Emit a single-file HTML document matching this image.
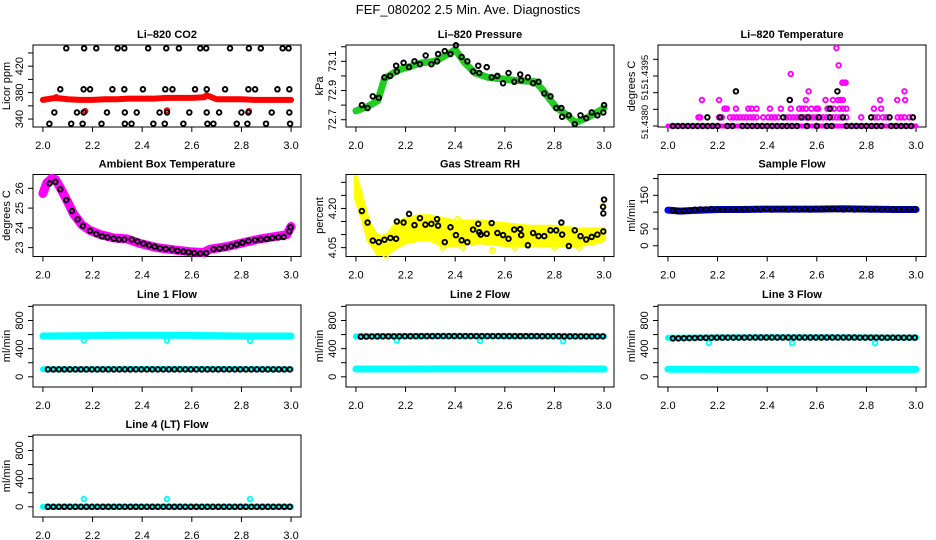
<!DOCTYPE html>
<html><head><meta charset="utf-8"><title>FEF_080202 Diagnostics</title>
<style>
html,body{margin:0;padding:0;background:#fff;}
svg{display:block;font-family:"Liberation Sans",Arial,sans-serif;}
</style></head>
<body>
<svg id="chart" width="936" height="540" viewBox="0 0 936 540" xmlns="http://www.w3.org/2000/svg">
<rect width="936" height="540" fill="#fff"/>
<text x="468" y="14" text-anchor="middle" font-size="13">FEF_080202  2.5 Min. Ave. Diagnostics</text>
</svg>
<script>
// ---------- data ----------
const xTicks=[2.0,2.2,2.4,2.6,2.8,3.0];
const xTickLabels=["2.0","2.2","2.4","2.6","2.8","3.0"];
// CO2
const co2BlackX=[2.094,2.166,2.215,2.301,2.328,2.424,2.497,2.548,2.634,2.658,2.754,2.83,2.878,2.966,2.99,
2.07,2.164,2.19,2.28,2.328,2.403,2.493,2.522,2.613,2.66,2.734,2.828,2.855,2.945,2.993,
2.046,2.137,2.164,2.258,2.33,2.378,2.47,2.5,2.59,2.66,2.71,2.8,2.828,2.922,2.993,
2.026,2.114,2.16,2.236,2.33,2.357,2.445,2.491,2.566,2.663,2.687,2.781,2.824,2.899,2.996];
const co2BlackY=[447,447,447,447,447,447,447,447,447,447,447,447,447,447,447,
385,385,385,385,385,385,385,385,385,385,385,385,385,385,385,
350,350,350,350,350,350,350,350,350,350,350,350,350,350,350,
333,333,333,333,333,333,333,333,333,333,333,333,333,333,333];
const co2RedX=[2.0,2.05,2.1,2.15,2.2,2.25,2.3,2.35,2.4,2.45,2.5,2.55,2.6,2.65,2.66,2.7,2.75,2.8,2.85,2.9,2.95,3.0];
const co2RedY=[369,372,370,369,369,370,370,371,371,371,372,372,372,373,376,370,370,370,369,369,369,369];
const co2RedOutX=[2.054,2.17,2.5,2.83];
const co2RedOutY=[373,352,353,352];
// Pressure
const presGreenX=[2.0,2.047,2.088,2.115,2.169,2.209,2.264,2.318,2.372,2.4,2.439,2.48,2.534,2.588,2.642,2.723,2.75,2.804,2.858,2.885,2.939,3.0];
const presGreenY=[72.76,72.79,72.83,72.98,73.04,73.06,73.09,73.1,73.15,73.18,73.09,73.02,72.99,72.98,72.97,72.96,72.91,72.79,72.72,72.68,72.72,72.78];
const presBlackX=[2.024,2.047,2.068,2.092,2.115,2.138,2.162,2.165,2.192,2.214,2.236,2.258,2.281,2.304,2.327,2.331,2.358,2.381,2.403,2.426,2.449,2.472,2.493,2.497,2.527,2.547,2.57,2.593,2.615,2.638,2.662,2.666,2.693,2.714,2.736,2.759,2.784,2.807,2.828,2.831,2.858,2.882,2.905,2.928,2.95,2.973,2.997,3.0];
const presBlackY=[72.80,72.78,72.86,72.85,72.99,73.0,73.07,73.03,73.09,73.06,73.1,73.08,73.14,73.08,73.1,73.15,73.17,73.15,73.21,73.13,73.1,73.03,73.07,73.02,73.06,72.99,73.0,72.95,73.02,72.96,73.01,72.97,72.99,72.95,72.96,72.88,72.86,72.78,72.78,72.72,72.73,72.67,72.73,72.71,72.75,72.73,72.75,72.8];
// Li-820 temperature
const tempBaseX=[2.0,3.0];
const tempBaseY=[51.4380,51.4380];
const tempMagX=[2.123,2.130,2.206,2.217,2.25,2.264,2.277,2.29,2.304,2.317,2.331,2.344,2.357,2.384,2.404,2.418,2.431,2.444,2.478,2.491,2.505,2.518,2.531,2.545,2.558,2.572,2.585,2.598,2.612,2.625,2.639,2.652,2.665,2.679,2.692,2.705,2.719,2.779,2.833,2.846,2.866,2.88,2.926,2.94,2.953,2.973,2.987,
2.228,2.237,2.274,2.324,2.337,2.357,2.411,2.455,2.495,2.529,2.542,2.556,2.578,2.598,2.605,2.643,2.656,2.669,2.692,2.705,2.719,2.83,2.859,
2.137,2.206,2.491,2.556,2.635,2.665,2.685,2.695,2.705,2.855,2.924,2.956,
2.567,2.953,2.703,2.708,2.716,2.495,2.688,2.679];
const tempMagY=[51.43826,51.43826,51.43826,51.43826,51.43826,51.43826,51.43826,51.43826,51.43826,51.43826,51.43826,51.43826,51.43826,51.43826,51.43826,51.43826,51.43826,51.43826,51.43826,51.43826,51.43826,51.43826,51.43826,51.43826,51.43826,51.43826,51.43826,51.43826,51.43826,51.43826,51.43826,51.43826,51.43826,51.43826,51.43826,51.43826,51.43826,51.43826,51.43826,51.43826,51.43826,51.43826,51.43826,51.43826,51.43826,51.43826,51.43826,
51.43852,51.43852,51.43852,51.43852,51.43852,51.43852,51.43852,51.43852,51.43852,51.43852,51.43852,51.43852,51.43852,51.43852,51.43852,51.43852,51.43852,51.43852,51.43852,51.43852,51.43852,51.43852,51.43852,
51.43878,51.43878,51.43878,51.43878,51.43878,51.43878,51.43878,51.43878,51.43878,51.43878,51.43878,51.43878,
51.43904,51.43904,51.4393,51.4393,51.4393,51.43956,51.43982,51.44034];
const tempBlackX=[2.02,2.04,2.06,2.08,2.1,2.12,2.14,2.16,2.18,2.2,2.24,2.26,2.3,2.32,2.34,2.36,2.38,2.4,2.42,2.44,2.46,2.48,2.5,2.52,2.56,2.6,2.64,2.66,2.72,2.74,2.76,2.78,2.8,2.82,2.84,2.86,2.9,2.92,2.94,2.96,2.98,
2.159,2.21,2.465,2.538,2.565,2.608,2.652,2.705,2.819,2.893,2.987,2.652,2.491,2.274,2.683];
const tempBlackY=[51.4380,51.4380,51.4380,51.4380,51.4380,51.4380,51.4380,51.4380,51.4380,51.4380,51.4380,51.4380,51.4380,51.4380,51.4380,51.4380,51.4380,51.4380,51.4380,51.4380,51.4380,51.4380,51.4380,51.4380,51.4380,51.4380,51.4380,51.4380,51.4380,51.4380,51.4380,51.4380,51.4380,51.4380,51.4380,51.4380,51.4380,51.4380,51.4380,51.4380,51.4380,
51.43826,51.43826,51.43826,51.43826,51.43826,51.43826,51.43826,51.43826,51.43826,51.43826,51.43826,51.43852,51.43878,51.43904,51.43904];
// Ambient box temperature
const ambMagX=[2.0,2.016,2.036,2.05,2.07,2.097,2.123,2.157,2.19,2.231,2.285,2.338,2.392,2.459,2.526,2.593,2.647,2.674,2.741,2.808,2.876,2.942,2.983,3.0];
const ambMagY=[25.74,26.28,26.5,26.45,26.03,25.38,24.72,24.15,23.87,23.66,23.49,23.44,23.21,23.0,22.89,22.79,22.75,22.92,23.05,23.25,23.44,23.57,23.66,24.07];
const ambBlackX=[2.027,2.05,2.07,2.094,2.117,2.14,2.161,2.19,2.215,2.238,2.26,2.285,2.306,2.328,2.358,2.381,2.405,2.428,2.45,2.472,2.495,2.52,2.542,2.566,2.587,2.61,2.634,2.658,2.687,2.711,2.734,2.758,2.781,2.804,2.828,2.855,2.878,2.902,2.925,2.949,2.97,2.993,2.998];
const ambBlackY=[26.25,26.33,25.95,25.41,24.85,24.43,24.1,23.85,23.69,23.57,23.52,23.46,23.41,23.41,23.41,23.31,23.2,23.11,23.05,22.97,22.93,22.9,22.84,22.8,22.77,22.72,22.7,22.72,22.92,22.95,23.0,23.08,23.16,23.25,23.33,23.38,23.41,23.44,23.49,23.52,23.54,23.82,24.03];
// Gas stream RH
const rhBandX=[2.0,2.03,2.05,2.08,2.1,2.13,2.16,2.2,2.25,2.3,2.35,2.4,2.5,2.6,2.7,2.8,2.9,2.97,3.0];
const rhUpper=[4.32,4.22,4.15,4.10,4.09,4.10,4.14,4.16,4.17,4.17,4.16,4.15,4.15,4.14,4.13,4.13,4.12,4.12,4.12];
const rhLower=[4.24,4.15,4.08,4.04,4.03,4.03,4.05,4.07,4.08,4.08,4.06,4.06,4.07,4.06,4.06,4.06,4.06,4.07,4.08];
const rhYellowOutX=[2.12,2.09,2.35,2.41,2.43,2.55,2.64,2.8,2.9,2.995];
const rhYellowOutY=[4.02,4.03,4.05,4.16,4.05,4.04,4.05,4.05,4.05,4.21];
const rhBlackX=[2.024,2.047,2.068,2.092,2.115,2.139,2.162,2.165,2.192,2.214,2.236,2.258,2.28,2.304,2.327,2.331,2.358,2.381,2.403,2.426,2.449,2.472,2.493,2.497,2.503,2.527,2.547,2.57,2.593,2.615,2.638,2.662,2.666,2.693,2.714,2.736,2.759,2.784,2.807,2.828,2.831,2.858,2.882,2.905,2.928,2.95,2.973,2.997,2.996,3.0,2.997];
const rhBlackY=[4.19,4.146,4.077,4.071,4.08,4.087,4.084,4.15,4.146,4.179,4.136,4.163,4.138,4.141,4.159,4.134,4.071,4.128,4.098,4.078,4.071,4.119,4.141,4.109,4.1,4.103,4.144,4.106,4.098,4.084,4.119,4.121,4.098,4.059,4.106,4.094,4.094,4.116,4.116,4.146,4.1,4.056,4.116,4.094,4.081,4.091,4.1,4.112,4.206,4.234,4.181];
// Sample flow
const sfBlueX=[2.0,2.05,2.1,2.2,2.3,2.4,2.5,2.6,2.7,2.8,2.9,3.0];
const sfBlueY=[106,103,105,108,108,109,109,109,110,109,108,108];
const sfBlack=[105,103,104,105,107,108,108,109,108,107,108,108,108,109,108,109,108,109,108,109,109,108,109,108,109,108,109,109,110,110,109,108,109,108,109,109,108,109,108,108,109,108,108,108,109];
// Line flows
const flowBandX=[2.0,2.2,2.35,2.5,2.6,2.8,3.0];
const l1HighY=[580,585,590,590,588,580,580];
const l1LowY=[108,108,110,110,110,110,108];
const l1Black=[105,105,105,105,105,105,105,105,105,105,105,105,105,105,105,105,105,105,105,105,105,105,105,105,105,105,105,105,105,105,105,105,105,105,105,105,105,105,105,105,105,105,105,105,105];
const l2HighY=[575,580,582,580,580,578,575];
const l2LowY=[110,110,112,112,112,112,110];
const l2Black=[570,572,573,574,575,575,575,575,576,576,576,577,577,577,578,578,578,578,578,578,578,578,578,578,578,578,578,577,577,577,577,577,577,576,576,576,576,575,575,575,575,575,575,575,575];
const l3HighY=[555,560,562,562,562,560,558];
const l3LowY=[108,106,106,106,106,106,106];
const l3Black=[545,546,548,550,552,553,554,555,556,556,557,557,557,557,558,558,558,558,558,558,558,558,558,558,558,558,558,558,558,558,558,558,558,558,557,557,557,557,556,556,556,556,556,556,556];
const l4BandY=[0,0,0,0,0,0,0];
const l4Black=[0,0,0,0,0,0,0,0,0,0,0,0,0,0,0,0,0,0,0,0,0,0,0,0,0,0,0,0,0,0,0,0,0,0,0,0,0,0,0,0,0,0,0,0,0];
const dipX=[2.165,2.5,2.835];
const l1DipY=[515,515,510];
const l2DipY=[515,510,505];
const l3DipY=[480,478,478];
const l4SpikeY=[110,110,110];

// ---------- drawing ----------
const svg=document.getElementById('chart');
const NS='http://www.w3.org/2000/svg';
const COLS=[33,346,658], PW=268, ROWS=[45,174.5,305,435], PH=82;
function el(tag,parent){const e=document.createElementNS(NS,tag);parent.appendChild(e);return e;}
function sampleX(n,i){return 2.02+i*(0.975/(n-1));}

function panel(col,row,title,ylab,ymin,ymax,ticks,labels,labelText,key,labelShift,labelSize){
  const L=COLS[col],T=ROWS[row];
  const g=el('g',svg);
  
  
  const X=v=>L+(v-1.96)/1.08*PW;
  const Y=v=>T+PH-(v-ymin)/(ymax-ymin)*PH;
  const t=el('text',g);
  
  
  t.setAttribute('x',L+PW/2);t.setAttribute('y',T-7);t.setAttribute('text-anchor','middle');
  t.setAttribute('font-size','11');t.setAttribute('font-weight','bold');t.textContent=title;
  const r=el('rect',g);
  
  
  r.setAttribute('x',L);r.setAttribute('y',T);r.setAttribute('width',PW);r.setAttribute('height',PH);
  r.setAttribute('fill','none');r.setAttribute('stroke','#000');r.setAttribute('stroke-width','1');
  const xa=el('g',g);
  
  
  xTicks.forEach((v,i)=>{
    const ln=el('line',xa);
    
    
    ln.setAttribute('x1',X(v));ln.setAttribute('x2',X(v));ln.setAttribute('y1',T+PH);ln.setAttribute('y2',T+PH+5);ln.setAttribute('stroke','#000');
    const tx=el('text',xa);
    
    
    tx.setAttribute('x',X(v));tx.setAttribute('y',T+PH+22);tx.setAttribute('text-anchor','middle');tx.setAttribute('font-size','11');
    tx.textContent=xTickLabels[i];
  });
  const ya=el('g',g);
  
  
  ticks.forEach(v=>{
    const ln=el('line',ya);
    
    
    ln.setAttribute('x1',L);ln.setAttribute('x2',L-5);ln.setAttribute('y1',Y(v));ln.setAttribute('y2',Y(v));ln.setAttribute('stroke','#000');
  });
  labels.forEach((v,i)=>{
    const tx=el('text',ya);
    
    
    const x=L-10,y=Y(v)+(labelShift?labelShift[i]:0);
    tx.setAttribute('x',x);tx.setAttribute('y',y);tx.setAttribute('text-anchor','middle');tx.setAttribute('font-size',labelSize||'11');
    tx.setAttribute('transform','rotate(-90 '+x+' '+y+')');
    tx.textContent=labelText[i];
  });
  const yl=el('text',g);
  
  
  const lx=L-23,ly=T+PH/2;
  yl.setAttribute('x',lx);yl.setAttribute('y',ly);yl.setAttribute('text-anchor','middle');yl.setAttribute('font-size','11');
  yl.setAttribute('transform','rotate(-90 '+lx+' '+ly+')');yl.textContent=ylab;
  return {g,X,Y};
}
function band(p,xs,ys,color,w,name){
  const pl=el('polyline',p.g);
  
  
  pl.setAttribute('points',xs.map((x,i)=>p.X(x)+','+p.Y(ys[i])).join(' '));
  pl.setAttribute('fill','none');pl.setAttribute('stroke',color);pl.setAttribute('stroke-width',w);
  pl.setAttribute('stroke-linejoin','round');pl.setAttribute('stroke-linecap','round');
}
function pts(p,xs,ys,color,name){
  xs.forEach((x,i)=>{
    const c=el('circle',p.g);
    
    
    c.setAttribute('cx',p.X(x));c.setAttribute('cy',p.Y(ys[i]));c.setAttribute('r','2.3');
    c.setAttribute('fill','none');c.setAttribute('stroke',color);c.setAttribute('stroke-width','1.9');
  });
}
function evenPts(p,vals,color,name){
  pts(p,vals.map((v,i)=>sampleX(vals.length,i)),vals,color,name);
}
function bandArea(p,xs,up,lo,color,name){
  const pg=el('polygon',p.g);
  
  
  const a=xs.map((x,i)=>p.X(x)+','+p.Y(up[i]));
  const b=xs.map((x,i)=>p.X(x)+','+p.Y(lo[i])).reverse();
  pg.setAttribute('points',a.concat(b).join(' '));
  pg.setAttribute('fill',color);pg.setAttribute('stroke',color);pg.setAttribute('stroke-width','4');pg.setAttribute('stroke-linejoin','round');
}

// Panel 1: CO2
let p=panel(0,0,'Li\u2013820 CO2','Licor ppm',328,452,[340,360,380,400,420,440],[340,380,420],['340','380','420'],'co2');
band(p,co2RedX,co2RedY,'#ff0000',6,'co2-red-series');
pts(p,co2RedOutX,co2RedOutY,'#ff0000','co2-red-point');
pts(p,co2BlackX,co2BlackY,'#000','co2-black-point');
// Panel 2: Pressure
p=panel(1,0,'Li\u2013820 Pressure','kPa',72.65,73.212,[72.7,72.8,72.9,73.0,73.1,73.2],[72.7,72.9,73.1],['72.7','72.9','73.1'],'pressure');
band(p,presGreenX,presGreenY,'#22cc22',7,'pressure-green-series');
pts(p,presBlackX,presBlackY,'#000','pressure-black-point');
// Panel 3: Li-820 temperature
p=panel(2,0,'Li\u2013820 Temperature','degrees C',51.43797,51.44043,[51.4380,51.4385,51.4390,51.4395,51.4400],[51.4380,51.4390,51.4395],['51.4380','51.','51.4395'],'li820-temp',[-4,1,-4],'9.5');
band(p,tempBaseX,tempBaseY,'#ff00ff',5,'temp-magenta-base');
pts(p,tempMagX,tempMagY,'#ff00ff','temp-magenta-point');
pts(p,tempBlackX,tempBlackY,'#000','temp-black-point');
// Panel 4: Ambient
p=panel(0,1,'Ambient Box Temperature','degrees C',22.55,26.7,[23,24,25,26],[23,24,25,26],['23','24','25','26'],'ambient');
band(p,ambMagX,ambMagY,'#ff00ff',9,'ambient-magenta-series');
pts(p,ambBlackX,ambBlackY,'#000','ambient-black-point');
// Panel 5: RH
p=panel(1,1,'Gas Stream RH','percent',4.016,4.33,[4.05,4.10,4.15,4.20,4.25,4.30],[4.05,4.20],['4.05','4.20'],'rh');
bandArea(p,rhBandX,rhUpper,rhLower,'#ffff00','rh-yellow-band');
pts(p,rhYellowOutX,rhYellowOutY,'#ffff00','rh-yellow-point');
pts(p,rhBlackX,rhBlackY,'#000','rh-black-point');
// Panel 6: Sample flow
p=panel(2,1,'Sample Flow','ml/min',-32,212,[0,50,100,150,200],[0,50,150],['0','50','150'],'sample-flow');
band(p,sfBlueX,sfBlueY,'#0000ff',7,'sample-flow-blue-series');
evenPts(p,sfBlack,'#000','sample-flow-black-point');
// Panel 7-10: line flows
const FT=[0,200,400,600,800,1000],FL=[0,400,800],FLT=['0','400','800'];
p=panel(0,2,'Line 1 Flow','ml/min',-145,1020,FT,FL,FLT,'line1');
band(p,flowBandX,l1HighY,'#00ffff',7,'line1-cyan-high');
band(p,flowBandX,l1LowY,'#00ffff',6,'line1-cyan-low');
pts(p,dipX,l1DipY,'#00ffff','line1-cyan-dip');
evenPts(p,l1Black,'#000','line1-black-point');
p=panel(1,2,'Line 2 Flow','ml/min',-145,1020,FT,FL,FLT,'line2');
band(p,flowBandX,l2HighY,'#00ffff',6,'line2-cyan-high');
band(p,flowBandX,l2LowY,'#00ffff',7,'line2-cyan-low');
pts(p,dipX,l2DipY,'#00ffff','line2-cyan-dip');
evenPts(p,l2Black,'#000','line2-black-point');
p=panel(2,2,'Line 3 Flow','ml/min',-145,1020,FT,FL,FLT,'line3');
band(p,flowBandX,l3HighY,'#00ffff',6,'line3-cyan-high');
band(p,flowBandX,l3LowY,'#00ffff',7,'line3-cyan-low');
pts(p,dipX,l3DipY,'#00ffff','line3-cyan-dip');
evenPts(p,l3Black,'#000','line3-black-point');
p=panel(0,3,'Line 4 (LT) Flow','ml/min',-145,1020,FT,FL,FLT,'line4');
band(p,flowBandX,l4BandY,'#00ffff',6,'line4-cyan-band');
pts(p,dipX,l4SpikeY,'#00ffff','line4-cyan-spike');
evenPts(p,l4Black,'#000','line4-black-point');
</script>
</body></html>
